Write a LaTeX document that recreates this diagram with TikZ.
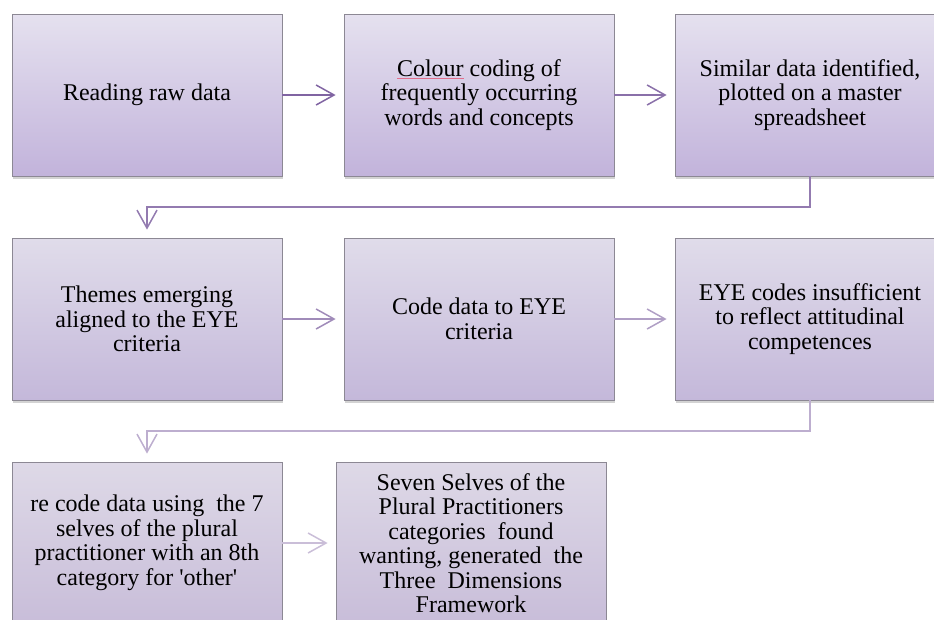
\documentclass[tikz,border=0pt]{standalone}
\usepackage{fontspec}
\setmainfont{Liberation Serif}[Ligatures=TeXOff]
\usetikzlibrary{arrows.meta,shadows}

\definecolor{linkbase}{RGB}{128,100,162}
\definecolor{spellmark}{RGB}{226,110,140}
\definecolor{edgegrey}{RGB}{140,136,148}
\definecolor{rowAtop}{RGB}{229,225,239}
\definecolor{rowAbot}{RGB}{194,179,219}
\definecolor{rowBtop}{RGB}{224,220,234}
\definecolor{rowBbot}{RGB}{196,184,218}
\definecolor{rowCtop}{RGB}{222,217,231}
\definecolor{rowCbot}{RGB}{200,189,217}

% thin coloured rule under a word
\newcommand{\spellul}[1]{\setbox0\hbox{#1}\rlap{\textcolor{spellmark}{\raisebox{-2.5pt}{\rule{\wd0}{0.6pt}}}}\box0\relax}

\tikzset{
  stepbox/.style={draw=edgegrey, line width=0.8pt, rectangle,
    minimum width=270pt, minimum height=162pt, inner sep=4pt,
    align=center, text=black,
    font=\fontsize{24}{24.5}\selectfont,
    drop shadow={shadow xshift=1pt, shadow yshift=-2.5pt, opacity=0.35}},
  rowA/.style={stepbox, top color=rowAtop, bottom color=rowAbot},
  rowB/.style={stepbox, top color=rowBtop, bottom color=rowBbot},
  rowC/.style={stepbox, top color=rowCtop, bottom color=rowCbot},
  link/.style={line width=1.5pt, shorten >=8pt,
    -{Straight Barb[length=18pt, width=20pt, line width=1.5pt]}},
}

\begin{document}
\begin{tikzpicture}[x=1pt, y=-1pt]
  \useasboundingbox (0,0) rectangle (934,619);
  \clip (0,0) rectangle (934,619);

  % first row
  \node[rowA] (s1) at (147,95) {Reading raw data};
  \node[rowA] (s2) at (479,95) {\spellul{Colour} coding of\\frequently occurring\\words and concepts};
  \node[rowA] (s3) at (810,95) {Similar data identified,\\plotted on a master\\spreadsheet};

  % second row
  \node[rowB] (s4) at (147,319) {Themes emerging\\aligned to the EYE\\criteria};
  \node[rowB] (s5) at (479,319) {Code data to EYE\\criteria};
  \node[rowB] (s6) at (810,319) {EYE codes insufficient\\to reflect attitudinal\\competences};

  % third row
  \node[rowC] (s7) at (147,543) {re code data using\ \ the 7\\selves of the plural\\practitioner with an 8th\\category for 'other'};
  \node[rowC] (s8) at (471,543) {Seven Selves of the\\Plural Practitioners\\categories\ \ found\\wanting, generated\ \ the\\Three\ \ Dimensions\\Framework};

  % turning points of the elbow connectors
  \coordinate (t1) at (810,207);
  \coordinate (t2) at (147,207);
  \coordinate (t3) at (810,431);
  \coordinate (t4) at (147,431);

  % connectors, fading step by step
  \draw[link, color=linkbase] (s1.east) -- (s2.west);
  \draw[link, color=linkbase!92!white] (s2.east) -- (s3.west);
  \draw[link, color=linkbase!85!white] (s3.south) -- (t1) -- (t2) -- (s4.north);
  \draw[link, color=linkbase!75!white] (s4.east) -- (s5.west);
  \draw[link, color=linkbase!62!white] (s5.east) -- (s6.west);
  \draw[link, color=linkbase!52!white] (s6.south) -- (t3) -- (t4) -- (s7.north);
  \draw[link, color=linkbase!42!white] (s7.east) -- (s8.west);
\end{tikzpicture}
\end{document}
